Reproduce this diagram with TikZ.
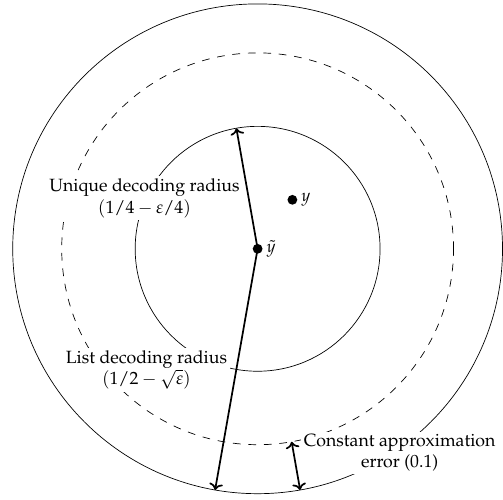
\documentclass[tikz,border=0pt]{standalone}
\usepackage[T1]{fontenc}
\usepackage{mathpazo}
\usetikzlibrary{arrows.meta}
\tikzset{
  lbl/.style={fill=white, align=center, inner sep=1.5pt, font=\fontsize{10.3}{12.4}\selectfont},
  dot/.style={circle, fill=black, inner sep=0pt, minimum size=0.2cm},
  radarrow/.style={line width=1pt},
  dashcirc/.style={dash pattern=on 4.5pt off 4.5pt}
}
\begin{document}
\begin{tikzpicture}
\useasboundingbox (-5.26,-5.12) rectangle (5.01,5.08);
\coordinate (c) at (0,0);
\draw (c) circle (5);
\draw[dashcirc] (c) circle (4);
\draw (c) circle (2.5);
\coordinate (inTop) at (100:2.5);
\coordinate (outBot) at (260:5);
\coordinate (dashB) at (-80:4);
\coordinate (outB) at (-80:5);
\node[lbl] (uniq) at (-2.31,1.03) {Unique decoding radius\\$(1/4-\varepsilon/4)$};
\node[lbl] (list) at (-2.27,-2.47) {List decoding radius\\$(1/2-\sqrt{\varepsilon})$};
\node[lbl] (const) at (2.90,-4.17) {Constant approximation\\error (0.1)};
\node[dot] (yt) at (c) {};
\node[dot] (y) at (0.71,1.0) {};
\node[anchor=west, inner sep=2pt] (ylab) at (y.east) {$y$};
\node[anchor=west, inner sep=2pt] (ytlab) at (yt.east) {$\tilde{y}$};
\draw[radarrow,->] (yt.center) -- (inTop);
\draw[radarrow,->] (yt.center) -- (outBot);
\draw[radarrow,<->] (dashB) -- (outB);
\end{tikzpicture}
\end{document}
